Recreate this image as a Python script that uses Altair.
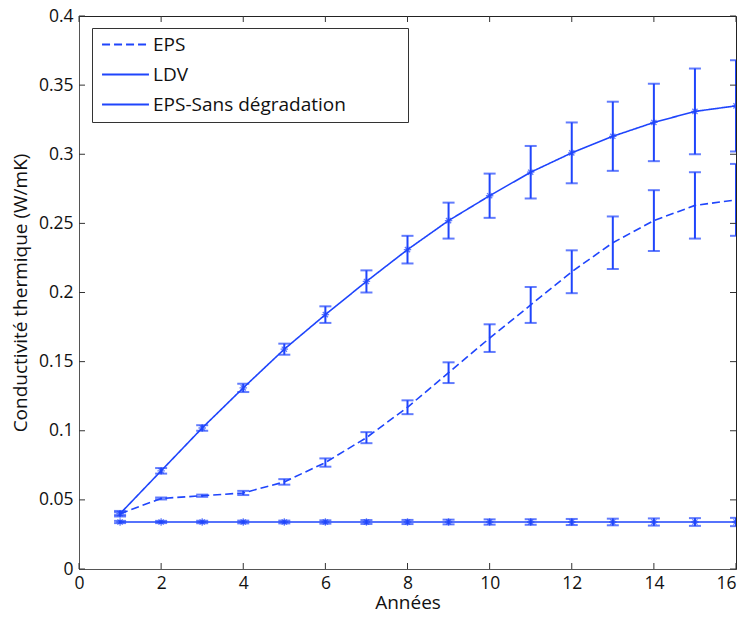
import altair as alt
import pandas as pd

years = list(range(1, 17))

eps = [0.040, 0.051, 0.053, 0.055, 0.063, 0.077, 0.095, 0.117, 0.142, 0.167,
       0.191, 0.215, 0.236, 0.252, 0.263, 0.267]
eps_err = [0.001, 0.0007, 0.0008, 0.0015, 0.002, 0.003, 0.004, 0.005, 0.0075, 0.010,
           0.013, 0.0155, 0.019, 0.022, 0.024, 0.026]

ldv = [0.040, 0.071, 0.102, 0.131, 0.159, 0.184, 0.208, 0.231, 0.252, 0.270,
       0.287, 0.301, 0.313, 0.323, 0.331, 0.335]
ldv_err = [0.002, 0.002, 0.002, 0.003, 0.004, 0.006, 0.008, 0.010, 0.013, 0.016,
           0.019, 0.022, 0.025, 0.028, 0.031, 0.033]

sans = [0.034] * 16
sans_err = [0.0008, 0.0008, 0.0009, 0.001, 0.001, 0.0012, 0.0014, 0.0015, 0.0017, 0.0019,
            0.002, 0.0022, 0.0024, 0.0026, 0.0028, 0.003]

series_names = ["EPS", "LDV", "EPS-Sans dégradation"]
x_ticks = list(range(0, 17, 2))
y_ticks = [0, 0.05, 0.1, 0.15, 0.2, 0.25, 0.3, 0.35, 0.4]

BLUE = "#1f45fc"
FONT = "Open Sans"
W, H = 657, 553

rows = []
for name, vals, errs in zip(series_names, [eps, ldv, sans], [eps_err, ldv_err, sans_err]):
    for yr, v, e in zip(years, vals, errs):
        rows.append({"series": name, "year": yr, "value": v,
                     "lo": v - e, "hi": v + e})
df = pd.DataFrame(rows)

xs = alt.Scale(domain=[0, 16], nice=False, zero=False)
ys = alt.Scale(domain=[0, 0.4], nice=False)

x_enc = alt.X("year:Q", scale=xs,
              axis=alt.Axis(values=x_ticks, title="Années", format="d", tickSize=0,
                            labelPadding=5, grid=False,
                            labelFlush=False,
                            labelAlign=alt.condition("datum.value == 16",
                                                     alt.value("right"), alt.value("center")),
                            titleFontSize=19, titleBaseline="alphabetic", titleY=39,
                            domainColor="#555555"))
y_enc = alt.Y("value:Q", scale=ys,
              axis=alt.Axis(values=y_ticks, title="Conductivité thermique (W/mK)",
                            format="~g", tickSize=0, labelPadding=6, titlePadding=8,
                            titleFontSize=19, titleY=H / 2, titleAnchor="middle",
                            grid=False, domainColor="#555555", labelFlush=False))

base = alt.Chart(df)

legend_sym = "M-2.76,0L2.76,0"
pad = "\u00a0" * 11 + "\u200b"

lines = base.mark_line(strokeWidth=1.6, clip=True).encode(
    x=x_enc, y=y_enc,
    color=alt.Color("series:N", sort=series_names,
                    scale=alt.Scale(domain=series_names, range=[BLUE, BLUE, BLUE]),
                    legend=alt.Legend(title=None, orient="none", legendX=13, legendY=12,
                                      strokeColor="#333333", fillColor="white",
                                      padding=7, labelFontSize=19, labelFont=FONT,
                                      labelColor="#111111", symbolType=legend_sym,
                                      symbolSize=289, symbolStrokeWidth=1.8,
                                      symbolOffset=17, labelOffset=18,
                                      rowPadding=10,
                                      labelExpr="datum.label + '" + pad + "'",
                                      cornerRadius=0, labelLimit=500)),
    strokeDash=alt.StrokeDash("series:N", sort=series_names,
                              scale=alt.Scale(domain=series_names,
                                              range=[[8, 4], [1, 0], [1, 0]]),
                              legend=None),
    detail="series:N",
)

star = "M-1,0L1,0M0,-1L0,1M-0.7,-0.7L0.7,0.7M-0.7,0.7L0.7,-0.7"
points = base.transform_filter(alt.datum.series != "EPS").mark_point(
    shape=star, size=55, filled=False, strokeWidth=1.3, color=BLUE, clip=True
).encode(x="year:Q", y="value:Q")

err_rule = base.mark_rule(strokeWidth=2, color=BLUE, clip=True).encode(
    x="year:Q", y="lo:Q", y2="hi:Q")
cap_lo = base.mark_tick(orient="horizontal", size=12, thickness=2, color=BLUE, clip=True).encode(
    x="year:Q", y="lo:Q")
cap_hi = base.mark_tick(orient="horizontal", size=12, thickness=2, color=BLUE, clip=True).encode(
    x="year:Q", y="hi:Q")

xt = pd.DataFrame({"t": x_ticks})
yt = pd.DataFrame({"t": y_ticks})
tk = 6
xtick_b = alt.Chart(xt).mark_rule(color="#333333", strokeWidth=1).encode(
    x=alt.X("t:Q", scale=xs), y=alt.value(H), y2=alt.value(H - tk))
xtick_t = alt.Chart(xt).mark_rule(color="#333333", strokeWidth=1).encode(
    x=alt.X("t:Q", scale=xs), y=alt.value(0), y2=alt.value(tk))
ytick_l = alt.Chart(yt).mark_rule(color="#333333", strokeWidth=1).encode(
    y=alt.Y("t:Q", scale=ys), x=alt.value(0), x2=alt.value(tk))
ytick_r = alt.Chart(yt).mark_rule(color="#333333", strokeWidth=1).encode(
    y=alt.Y("t:Q", scale=ys), x=alt.value(W), x2=alt.value(W - tk))

chart = alt.layer(
    lines, err_rule, cap_lo, cap_hi, points,
    xtick_b, xtick_t, ytick_l, ytick_r,
).properties(
    width=W, height=H,
    autosize=alt.AutoSizeParams(type="none"),
    padding={"left": 71, "top": 8, "right": 1, "bottom": 41},
).configure_view(
    stroke="#222222", strokeWidth=1
).configure_axis(
    labelFont=FONT, titleFont=FONT, labelFontSize=17.5, titleFontSize=19,
    labelColor="#111111", titleColor="#111111", titleFontWeight="normal"
)

chart.save("out.html", embed_options={"renderer": "svg", "actions": False})
